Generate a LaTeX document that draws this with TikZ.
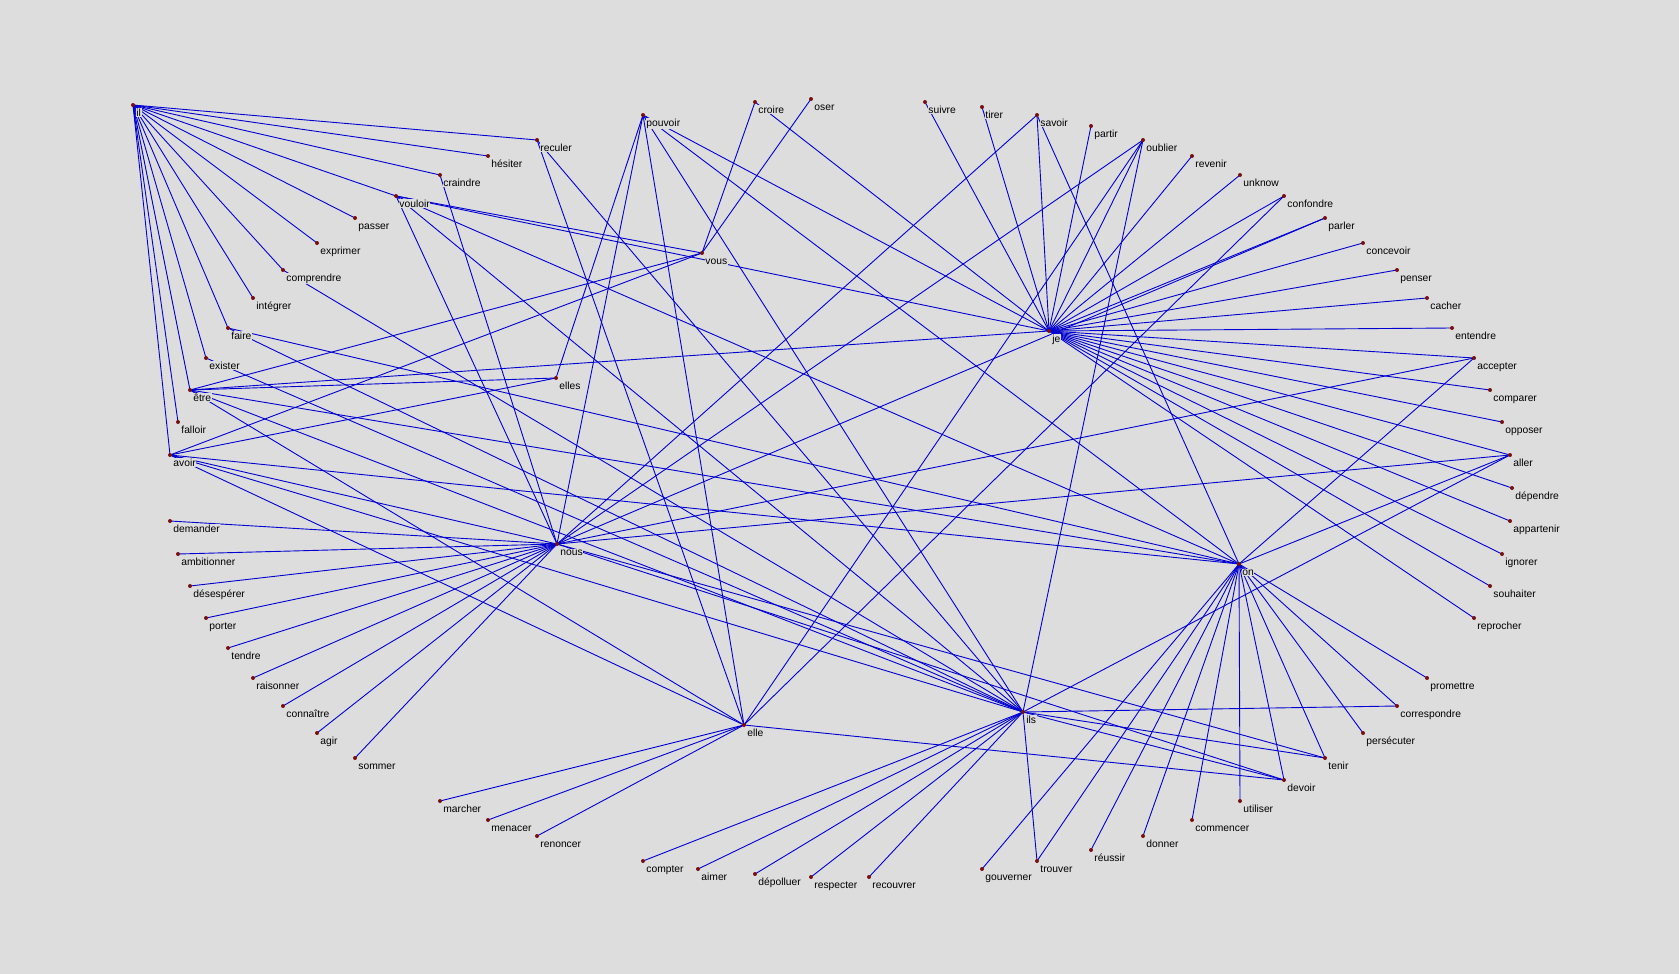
\documentclass[tikz,border=0pt]{standalone}
\usepackage{fontspec}
\setmainfont{Liberation Sans}
\definecolor{bg}{RGB}{221,221,221}
\definecolor{edgeblue}{RGB}{0,0,210}
\definecolor{dotred}{RGB}{120,16,16}
\begin{document}
\begin{tikzpicture}[x=1pt,y=-1pt,
  edge/.style={draw=edgeblue,line width=0.9pt},
  dotmark/.style={fill=dotred},
  lbl/.style={anchor=base west,inner sep=0.6pt,fill=bg,text=black,font=\fontsize{10.3}{12}\selectfont}]
\fill[bg] (0,0) rectangle (1679,974);
\useasboundingbox (0,0) rectangle (1679,974);
\foreach \n/\x/\y in {
 il/133/105, vous/702/253, elles/556/378, je/1049/331,
 nous/557/544, on/1239/564, elle/744/725, ils/1023/712,
 reculer/537/140, hesiter/488/156, craindre/440/175,
 vouloir/396/196, passer/355/218, exprimer/317/243,
 comprendre/283/270, integrer/253/298, faire/228/328,
 exister/206/358, etre/190/390, falloir/178/422,
 avoir/170/455, demander/170/521, ambitionner/178/554,
 desesperer/190/586, porter/206/618, tendre/228/648,
 raisonner/253/678, connaitre/283/706, agir/317/733,
 sommer/355/758, marcher/440/801, menacer/488/820,
 renoncer/537/836, compter/643/861, aimer/698/869,
 depolluer/755/874, respecter/811/877, recouvrer/869/877,
 gouverner/982/869, trouver/1037/861, reussir/1091/850,
 donner/1143/836, commencer/1192/820, utiliser/1240/801,
 devoir/1284/780, tenir/1325/758, persecuter/1363/733,
 correspondre/1397/706, promettre/1427/678,
 reprocher/1474/618, souhaiter/1490/586, ignorer/1502/554,
 appartenir/1510/521, dependre/1512/488, aller/1510/455,
 opposer/1502/422, comparer/1490/390, accepter/1474/358,
 entendre/1452/328, cacher/1427/298, penser/1397/270,
 concevoir/1363/243, parler/1325/218, confondre/1284/196,
 unknow/1240/175, revenir/1192/156, oublier/1143/140,
 partir/1091/126, savoir/1037/115, tirer/982/107,
 suivre/925/102, oser/811/99, croire/755/102, pouvoir/643/115}
 {\coordinate (\n) at (\x,\y);}
% connectors
\foreach \a/\b in {
 il/reculer, il/hesiter, il/craindre, il/vouloir, il/passer, il/exprimer, il/comprendre,
 il/integrer, il/faire, il/exister, il/etre, il/falloir, il/avoir,
 vous/oser, vous/croire, vous/vouloir, vous/etre, vous/avoir,
 elles/pouvoir, elles/etre, elles/avoir,
 je/suivre, je/tirer, je/savoir, je/partir, je/oublier, je/revenir, je/unknow, je/confondre,
 je/parler, je/concevoir, je/penser, je/cacher, je/entendre, je/accepter, je/comparer,
 je/opposer, je/aller, je/dependre, je/appartenir, je/ignorer, je/souhaiter, je/reprocher,
 je/croire, je/pouvoir, je/vouloir, je/etre,
 nous/demander, nous/ambitionner, nous/desesperer, nous/porter, nous/tendre, nous/raisonner,
 nous/connaitre, nous/agir, nous/sommer, nous/craindre, nous/vouloir, nous/pouvoir,
 nous/savoir, nous/oublier, nous/parler, nous/accepter, nous/aller, nous/avoir,
 nous/tenir, nous/devoir,
 on/vouloir, on/faire, on/avoir, on/etre, on/pouvoir, on/savoir, on/accepter, on/aller,
 on/gouverner, on/trouver, on/reussir, on/donner, on/commencer, on/utiliser, on/devoir,
 on/tenir, on/persecuter, on/correspondre, on/promettre,
 elle/marcher, elle/menacer, elle/renoncer, elle/reculer, elle/pouvoir, elle/oublier,
 elle/confondre, elle/avoir, elle/etre, elle/devoir,
 ils/reculer, ils/vouloir, ils/comprendre, ils/faire, ils/exister, ils/etre, ils/avoir,
 ils/pouvoir, ils/oublier, ils/aller, ils/correspondre, ils/tenir, ils/devoir, ils/trouver,
 ils/compter, ils/aimer, ils/depolluer, ils/respecter, ils/recouvrer}
 {\draw[edge] (\a) -- (\b);}
% dots and labels
\foreach \n/\t in {
 il/il, vous/vous, elles/elles, je/je, nous/nous, on/on, elle/elle, ils/ils,
 reculer/reculer, hesiter/hésiter, craindre/craindre, vouloir/vouloir, passer/passer,
 exprimer/exprimer, comprendre/comprendre, integrer/intégrer, faire/faire, exister/exister,
 etre/être, falloir/falloir, avoir/avoir, demander/demander, ambitionner/ambitionner,
 desesperer/désespérer, porter/porter, tendre/tendre, raisonner/raisonner,
 connaitre/connaître, agir/agir, sommer/sommer, marcher/marcher, menacer/menacer,
 renoncer/renoncer, compter/compter, aimer/aimer, depolluer/dépolluer, respecter/respecter,
 recouvrer/recouvrer, gouverner/gouverner, trouver/trouver, reussir/réussir, donner/donner,
 commencer/commencer, utiliser/utiliser, devoir/devoir, tenir/tenir, persecuter/persécuter,
 correspondre/correspondre, promettre/promettre, reprocher/reprocher, souhaiter/souhaiter,
 ignorer/ignorer, appartenir/appartenir, dependre/dépendre, aller/aller, opposer/opposer,
 comparer/comparer, accepter/accepter, entendre/entendre, cacher/cacher, penser/penser,
 concevoir/concevoir, parler/parler, confondre/confondre, unknow/unknow, revenir/revenir,
 oublier/oublier, partir/partir, savoir/savoir, tirer/tirer, suivre/suivre, oser/oser,
 croire/croire, pouvoir/pouvoir}
 {\fill[dotmark] (\n) circle (2pt);
  \path (\n) ++(2.6,11.3) node[lbl] (\n-l) {\t};}
\end{tikzpicture}
\end{document}
